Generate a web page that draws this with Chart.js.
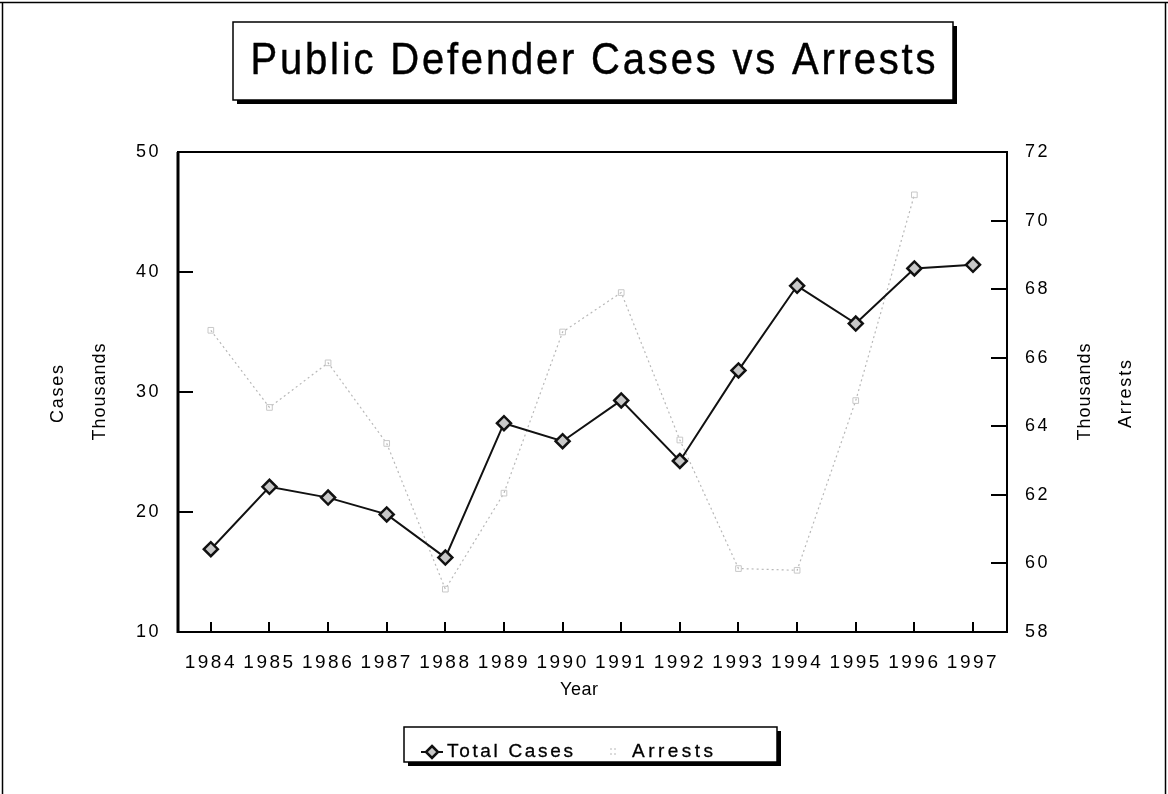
<!DOCTYPE html>
<html>
<head>
<meta charset="utf-8">
<script src="https://cdn.jsdelivr.net/npm/chart.js@4.4.0/dist/chart.umd.min.js"></script>
<style>
  html, body { margin: 0; padding: 0; background: #ffffff; }
  #wrap { width: 1168px; height: 794px; position: relative; }
</style>
</head>
<body>
<div id="wrap"><canvas id="c" width="1168" height="794"></canvas></div>
<script>
// ---- data ----
const years = [1984, 1985, 1986, 1987, 1988, 1989, 1990, 1991, 1992, 1993, 1994, 1995, 1996, 1997];
const totalCases = [16.9, 22.1, 21.2, 19.8, 16.2, 27.4, 25.9, 29.3, 24.25, 31.8, 38.85, 35.7, 40.3, 40.6];
const arrests = [66.8, 64.55, 65.85, 63.5, 59.25, 62.05, 66.75, 67.9, 63.6, 59.85, 59.8, 64.75, 70.75, null];
const casesTicks = [10, 20, 30, 40, 50];
const arrestTicks = [58, 60, 62, 64, 66, 68, 70, 72];
const chartTitle = 'Public Defender Cases vs Arrests';
const xTitle = 'Year';
const leftTitles = ['Cases', 'Thousands'];
const rightTitles = ['Thousands', 'Arrests'];
const seriesNames = ['Total Cases', 'Arrests'];

const FONT = "'Liberation Sans', Arial, Helvetica, sans-serif";

function spacedText(ctx, text, x, y, size, targetW, align, sy, stroke) {
  sy = sy || 1;
  ctx.save();
  ctx.font = size + 'px ' + FONT;
  ctx.letterSpacing = '0px';
  const w = ctx.measureText(text).width;
  const ls = text.length > 1 ? Math.max(0, (targetW - w) / (text.length - 1)) : 0;
  ctx.letterSpacing = ls + 'px';
  const full = w + ls * (text.length - 1);
  const sx = align === 'center' ? x - full / 2 : x;
  ctx.translate(sx, y);
  ctx.scale(1, sy);
  ctx.textAlign = 'left';
  ctx.textBaseline = 'middle';
  ctx.fillStyle = '#000';
  ctx.fillText(text, 0, 0);
  if (stroke) {
    ctx.strokeStyle = '#000';
    ctx.lineWidth = stroke;
    ctx.strokeText(text, 0, 0);
  }
  ctx.restore();
}
function vertText(ctx, text, cx, cy, size, targetW) {
  ctx.save();
  ctx.translate(cx, cy);
  ctx.rotate(-Math.PI / 2);
  spacedText(ctx, text, 0, 0, size, targetW, 'center');
  ctx.restore();
}
function shadowBox(ctx, l, t, r, b, sh) {
  ctx.save();
  ctx.fillStyle = '#fff';
  ctx.fillRect(l, t, r - l, b - t);
  ctx.strokeStyle = '#000';
  ctx.lineWidth = 1.5;
  ctx.strokeRect(l, t, r - l, b - t);
  ctx.fillStyle = '#000';
  ctx.fillRect(r, t + sh, sh, b - t);
  ctx.fillRect(l + sh, b, r - l, sh);
  ctx.restore();
}

const decor = {
  id: 'decor',
  beforeDraw(chart) {
    chart.ctx.letterSpacing = '2.5px';
  },
  beforeDatasetsDraw(chart) {
    const ctx = chart.ctx;
    const a = chart.chartArea;
    const xs = chart.scales.x, ys = chart.scales.y, y1 = chart.scales.y1;
    ctx.save();
    ctx.strokeStyle = '#000';
    ctx.lineWidth = 2;
    ctx.beginPath();
    years.forEach(v => {
      const px = Math.round(xs.getPixelForValue(v));
      ctx.moveTo(px, a.bottom); ctx.lineTo(px, a.bottom - 10);
    });
    casesTicks.forEach(v => {
      const py = Math.round(ys.getPixelForValue(v));
      ctx.moveTo(a.left, py); ctx.lineTo(a.left + 15, py);
    });
    arrestTicks.forEach(v => {
      const py = Math.round(y1.getPixelForValue(v));
      ctx.moveTo(a.right, py); ctx.lineTo(a.right - 16, py);
    });
    ctx.stroke();
    ctx.restore();
  },
  afterDraw(chart) {
    const ctx = chart.ctx;
    const a = chart.chartArea;
    ctx.save();
    ctx.letterSpacing = '0px';
    ctx.strokeStyle = '#000';
    ctx.lineWidth = 2;
    ctx.strokeRect(a.left, a.top, a.right - a.left, a.bottom - a.top);
    ctx.lineWidth = 3;
    ctx.beginPath(); ctx.moveTo(a.left, a.top); ctx.lineTo(a.left, a.bottom + 1); ctx.stroke();
    ctx.lineWidth = 1.5;
    ctx.beginPath();
    ctx.moveTo(0, 2.5); ctx.lineTo(1168, 2.5);
    ctx.moveTo(2.5, 2.5); ctx.lineTo(2.5, 794);
    ctx.moveTo(1165.5, 2.5); ctx.lineTo(1165.5, 794);
    ctx.stroke();
    ctx.restore();

    // title box
    shadowBox(ctx, 233, 22, 953, 100, 4);
    spacedText(ctx, chartTitle, 593, 62, 40, 685, 'center', 1.1, 0.4);

    // axis titles
    spacedText(ctx, xTitle, 579, 690, 18, 38, 'center');
    vertText(ctx, leftTitles[0], 58, 394, 18, 58);
    vertText(ctx, leftTitles[1], 100, 392, 18, 97);
    vertText(ctx, rightTitles[0], 1085, 392, 18, 97);
    vertText(ctx, rightTitles[1], 1126, 394, 18, 68);

    // legend box
    shadowBox(ctx, 404, 727, 777, 762, 4);
    const ds0 = chart.data.datasets[0], ds1 = chart.data.datasets[1];
    ctx.save();
    ctx.strokeStyle = ds0.borderColor; ctx.lineWidth = 2;
    ctx.beginPath(); ctx.moveTo(421, 752); ctx.lineTo(443, 752); ctx.stroke();
    ctx.fillStyle = ds0.pointBackgroundColor; ctx.strokeStyle = ds0.pointBorderColor; ctx.lineWidth = 2.5;
    ctx.beginPath();
    ctx.moveTo(432, 746); ctx.lineTo(438, 752); ctx.lineTo(432, 758); ctx.lineTo(426, 752); ctx.closePath();
    ctx.fill(); ctx.stroke();
    ctx.strokeStyle = ds1.borderColor; ctx.lineWidth = 1;
    ctx.setLineDash([2, 2]);
    ctx.beginPath(); ctx.moveTo(610, 749); ctx.lineTo(617, 749); ctx.moveTo(610, 754); ctx.lineTo(617, 754); ctx.stroke();
    ctx.restore();
    spacedText(ctx, seriesNames[0], 447, 752, 19, 126, 'left', 1, 0.3);
    spacedText(ctx, seriesNames[1], 632, 752, 19, 81, 'left', 1, 0.3);
  }
};

const ctx = document.getElementById('c').getContext('2d');
new Chart(ctx, {
  type: 'line',
  data: {
    datasets: [
      {
        label: seriesNames[0],
        data: years.map((y, i) => ({x: y, y: totalCases[i]})),
        yAxisID: 'y',
        borderColor: '#111111',
        borderWidth: 2,
        pointStyle: 'rectRot',
        pointRadius: 7,
        pointBorderWidth: 2.5,
        pointBorderColor: '#111111',
        pointBackgroundColor: '#c8c8c8',
        tension: 0,
        order: 1
      },
      {
        label: seriesNames[1],
        data: years.map((y, i) => ({x: y, y: arrests[i]})),
        yAxisID: 'y1',
        borderColor: '#b8b8b8',
        borderWidth: 1.2,
        borderDash: [2, 3],
        pointStyle: 'rect',
        pointRadius: 4,
        pointBorderWidth: 1,
        pointBorderColor: '#c8c8c8',
        pointBackgroundColor: 'rgba(0,0,0,0)',
        tension: 0,
        spanGaps: false,
        order: 2
      }
    ]
  },
  options: {
    responsive: false,
    animation: false,
    devicePixelRatio: 1,
    layout: { padding: { top: 152, left: 0, right: 0, bottom: 0 } },
    plugins: { legend: { display: false }, title: { display: false }, tooltip: { enabled: false } },
    scales: {
      x: {
        type: 'linear',
        position: 'bottom',
        min: 1983.44,
        max: 1997.58,
        afterBuildTicks: s => { s.ticks = years.map(v => ({value: v})); },
        afterFit: s => { s.height = 162; },
        grid: { display: false, drawTicks: false },
        border: { display: false },
        ticks: {
          autoSkip: false,
          maxRotation: 0,
          padding: 19,
          color: '#000',
          font: { family: FONT, size: 19 },
          callback: v => String(v)
        }
      },
      y: {
        type: 'linear',
        position: 'left',
        min: casesTicks[0],
        max: casesTicks[casesTicks.length - 1],
        afterBuildTicks: s => { s.ticks = casesTicks.map(v => ({value: v})); },
        afterFit: s => { s.width = 178; },
        grid: { display: false, drawTicks: false },
        border: { display: false },
        ticks: { padding: 17, color: '#000', font: { family: FONT, size: 18 } }
      },
      y1: {
        type: 'linear',
        position: 'right',
        min: arrestTicks[0],
        max: arrestTicks[arrestTicks.length - 1],
        afterBuildTicks: s => { s.ticks = arrestTicks.map(v => ({value: v})); },
        afterFit: s => { s.width = 161; },
        grid: { display: false, drawTicks: false },
        border: { display: false },
        ticks: { padding: 18, color: '#000', font: { family: FONT, size: 18 } }
      }
    }
  },
  plugins: [decor]
});
</script>
</body>
</html>
